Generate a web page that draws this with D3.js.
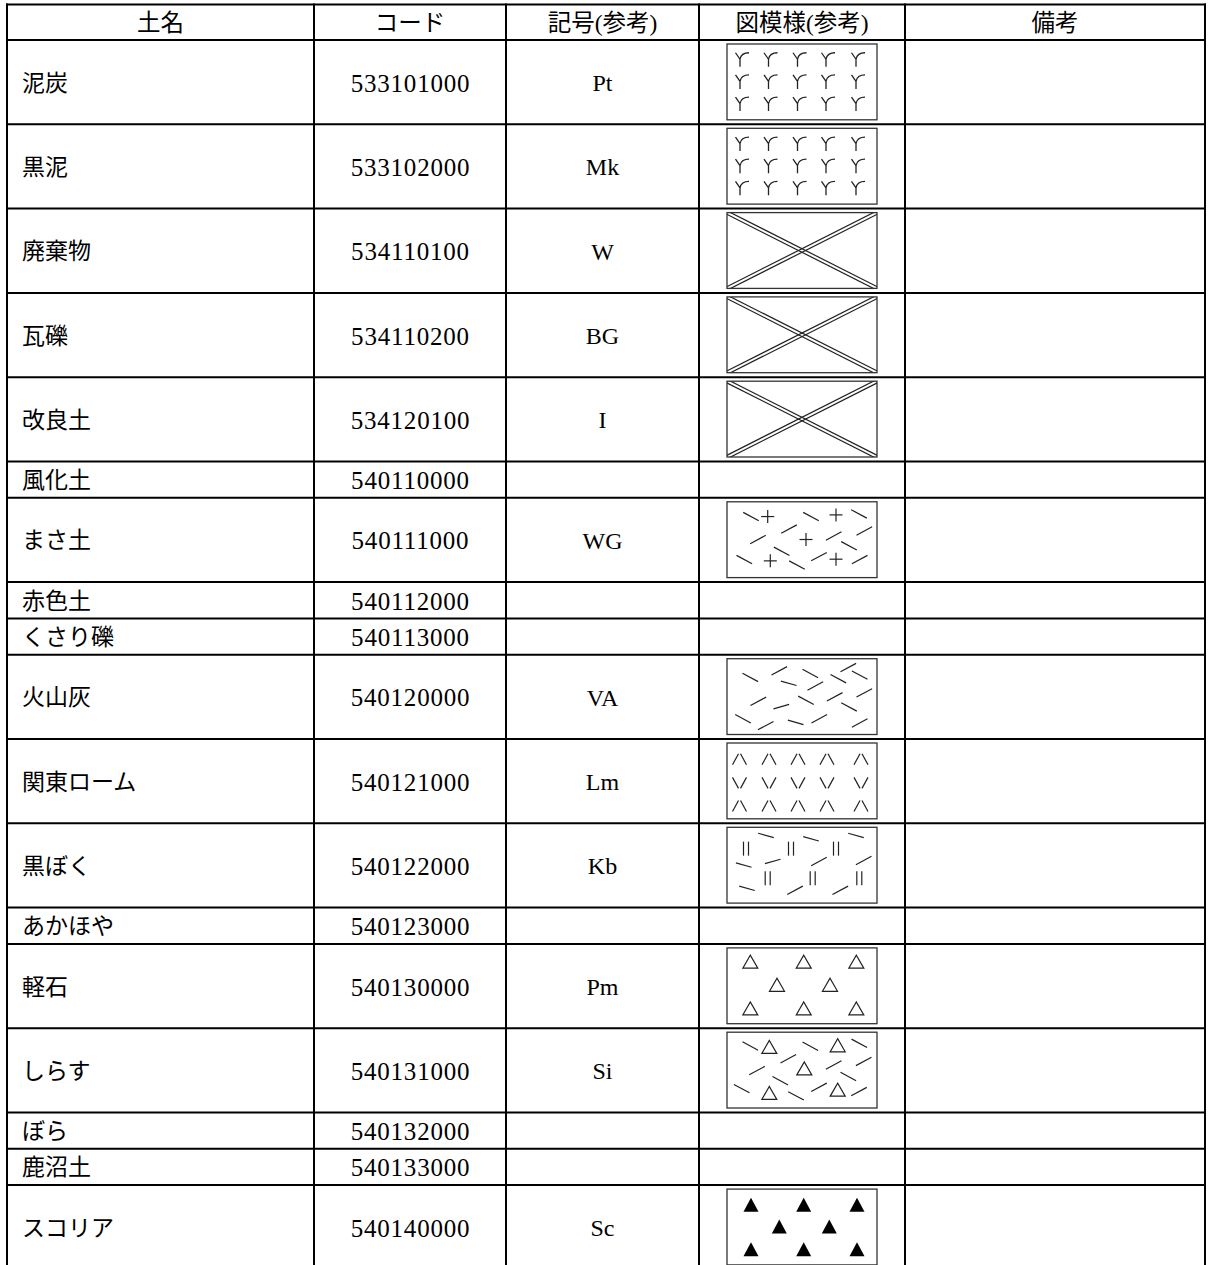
<!DOCTYPE html>
<html><head><meta charset="utf-8">
<script src="https://cdn.jsdelivr.net/npm/d3@7"></script>
<style>html,body{margin:0;padding:0;background:#fff;} svg{display:block;}</style>
</head><body><svg id="c" width="1211" height="1265"></svg>
<script>
// ---------- data ----------
const headers = ["土名", "コード", "記号(参考)", "図模様(参考)", "備考"];
const soilNames = ["泥炭", "黒泥", "廃棄物", "瓦礫", "改良土", "風化土", "まさ土", "赤色土", "くさり礫",
  "火山灰", "関東ローム", "黒ぼく", "あかほや", "軽石", "しらす", "ぼら", "鹿沼土", "スコリア"];
const codes = ["533101000", "533102000", "534110100", "534110200", "534120100", "540110000", "540111000",
  "540112000", "540113000", "540120000", "540121000", "540122000", "540123000", "540130000", "540131000",
  "540132000", "540133000", "540140000"];
const symbols = ["Pt", "Mk", "W", "BG", "I", "", "WG", "", "", "VA", "Lm", "Kb", "", "Pm", "Si", "", "", "Sc"];
const patterns = ["peat", "peat", "cross", "cross", "cross", null, "masa", null, null, "ash", "loam", "kuroboku",
  null, "pumice", "shirasu", null, null, "scoria"];
const remarks = ["", "", "", "", "", "", "", "", "", "", "", "", "", "", "", "", "", ""];

// pattern glyphs, in box units (box = 150 x 77)
const peatCols = [13, 41.5, 70.5, 99, 129];
const peatRows = [16, 38.5, 61];
const loamCols = [12.5, 42, 71, 100, 134];
const loamRows = [[16.5, "up"], [40.5, "down"], [64, "up"]];
const masaMarks = [[24, 15, "d"], [40.7, 15, "+"], [84, 15, "d"], [109, 13.3, "+"], [132, 12.3, "d"],
  [62, 27.7, "a"], [31, 38.3, "a"], [79, 38.3, "+"], [106.7, 34.7, "a"], [137.3, 29.7, "a"],
  [122, 44.7, "d"], [54.7, 50.3, "d"],
  [17.3, 58.7, "d"], [43.3, 60, "+"], [70, 64.3, "d"], [92, 55.7, "a"], [109, 58.3, "+"], [132.7, 58.7, "a"]];
const ashMarks = [[23.3, 19, "d"], [52.3, 12.3, "a"], [83.3, 15, "d"], [121.3, 9, "a"], [132.7, 16.7, "d"],
  [111.3, 20.3, "d"], [61.7, 25, "sd"], [88.3, 27.7, "a"], [31.3, 43.3, "a"], [79, 42.3, "d"],
  [107.7, 38.7, "a"], [137.3, 34.7, "a"], [54.3, 48.7, "sa"], [122, 49, "d"], [16, 61, "d"],
  [38.7, 68, "a"], [68.7, 64.7, "sd"], [92.3, 61, "a"], [132.7, 65.3, "a"]];
const kurobokuMarks = [[19, 21.7, "||"], [39, 8.3, "sd"], [64, 21.7, "||"], [84, 11.7, "sd"], [109, 21.7, "||"],
  [129, 8.3, "sd"], [16.7, 38.3, "sd"], [45.7, 34.7, "sa"], [92, 34.7, "a"], [136.7, 33.7, "a"],
  [40.7, 51.7, "||"], [85.7, 51.7, "||"], [132.3, 51.7, "||"], [20, 62, "sd"], [68, 64, "a"], [113.3, 64, "a"]];
const pumiceMarks = [[23.3, 14, "tri"], [76.7, 14, "tri"], [129.3, 14, "tri"], [50, 37.5, "tri"], [103, 37.5, "tri"],
  [23.3, 61.5, "tri"], [76.7, 61.5, "tri"], [129.3, 61.5, "tri"]];
const shirasuMarks = [[23.3, 14, "d"], [42.3, 15, "tri"], [83.3, 14.3, "d"], [110.7, 13.3, "tri"], [132.3, 11.3, "d"],
  [61.3, 27, "a"], [30, 39, "a"], [77.3, 36.7, "tri"], [106.7, 33.3, "a"], [136.7, 29.7, "a"],
  [121.3, 45, "d"], [53.3, 49.3, "d"], [14.7, 57.3, "d"], [42.3, 61.7, "tri"], [69, 64.7, "d"],
  [92, 56, "a"], [110.7, 58.3, "tri"], [132, 60.3, "a"]];
const scoriaMarks = [[24, 16, "ftri"], [76.7, 16, "ftri"], [130, 16, "ftri"], [52.3, 38, "ftri"], [102.3, 38, "ftri"],
  [24, 61, "ftri"], [76.7, 61, "ftri"], [130, 61, "ftri"]];

// ---------- layout ----------
const colEdges = [7, 314, 506, 699, 905, 1205];
const tableTop = 4.5, headerH = 35.5, tallH = 84.3, shortH = 36.3;
const FONT = "'Liberation Serif','Noto Sans CJK JP',serif";
const FS_HEAD = 23.5, FS_NAME = 23, FS_NUM = 25, FS_SYM = 24;

const svg = d3.select("#c");
const rowHeights = [headerH].concat(patterns.map(p => p ? tallH : shortH));
const rowTops = [tableTop].concat(Array.from(d3.cumsum(rowHeights), v => tableTop + v));
const colX = d3.scaleOrdinal().domain(d3.range(colEdges.length)).range(colEdges);
const rowY = d3.scaleOrdinal().domain(d3.range(rowTops.length)).range(rowTops);

// text
const g = svg.append("g").attr("font-family", FONT).attr("fill", "#000");
headers.forEach((h, c) => {
  g.append("text").attr("x", (colX(c) + colX(c + 1)) / 2).attr("y", rowY(0) + headerH / 2 + 1)
    .attr("font-size", FS_HEAD).attr("text-anchor", "middle").attr("dominant-baseline", "central").text(h);
});
const rows = soilNames.map((n, i) => ({ name: n, code: codes[i], sym: symbols[i], pat: patterns[i], rem: remarks[i], i }));
rows.forEach(r => {
  const top = rowY(r.i + 1), h = rowHeights[r.i + 1], cy = top + h / 2 + 1;
  g.append("text").attr("x", colX(0) + 15).attr("y", cy).attr("font-size", FS_NAME).attr("dominant-baseline", "central").text(r.name);
  g.append("text").attr("x", (colX(1) + colX(2)) / 2 + 0.5).attr("y", cy).attr("font-size", FS_NUM).attr("letter-spacing", 0.8)
    .attr("text-anchor", "middle").attr("dominant-baseline", "central").text(r.code);
  g.append("text").attr("x", (colX(2) + colX(3)) / 2).attr("y", cy).attr("font-size", FS_SYM).attr("text-anchor", "middle").attr("dominant-baseline", "central").text(r.sym);
  g.append("text").attr("x", (colX(4) + colX(5)) / 2).attr("y", cy).attr("font-size", FS_NAME).attr("text-anchor", "middle").attr("dominant-baseline", "central").text(r.rem);
});

// patterns
const defs = svg.append("defs");
const pg = svg.append("g");
const BW = 150, BH = 77;
rows.filter(r => r.pat).forEach(r => {
  const top = rowY(r.i + 1), h = rowHeights[r.i + 1];
  const cx = (colX(3) + colX(4)) / 2;
  const bx = cx - BW / 2, by = top + 4, bh = h - 8.5;
  const sx = d3.scaleLinear().domain([0, BW]).range([bx, bx + BW]);
  const sy = d3.scaleLinear().domain([0, BH]).range([by, by + bh]);
  const cell = pg.append("g").attr("stroke", "#222").attr("stroke-width", 1.2).attr("fill", "none");
  const clipId = "clip" + r.i;
  defs.append("clipPath").attr("id", clipId).append("rect").attr("x", bx).attr("y", by).attr("width", BW).attr("height", bh);
  const line = (x1, y1, x2, y2) => cell.append("line").attr("x1", x1).attr("y1", y1).attr("x2", x2).attr("y2", y2);
  const dash = (m) => {
    const x = sx(m[0]), y = sy(m[1]), t = m[2];
    if (t === "d") line(x - 7.8, y - 4.2, x + 7.8, y + 4.2);
    else if (t === "a") line(x - 7.8, y + 4.2, x + 7.8, y - 4.2);
    else if (t === "sd") line(x - 7.8, y - 2.2, x + 7.8, y + 2.2);
    else if (t === "sa") line(x - 7.8, y + 2.2, x + 7.8, y - 2.2);
    else if (t === "+") { line(x - 6.5, y, x + 6.5, y); line(x, y - 6.5, x, y + 6.5); }
    else if (t === "||") { line(x - 2.5, y - 7, x - 2.5, y + 7); line(x + 2.5, y - 7, x + 2.5, y + 7); }
    else if (t === "tri") cell.append("path").attr("d", `M${x - 7.5},${y + 6.5}L${x},${y - 6.5}L${x + 7.5},${y + 6.5}Z`);
    else if (t === "ftri") cell.append("path").attr("fill", "#000").attr("stroke", "none").attr("d", `M${x - 7.5},${y + 7}L${x},${y - 7}L${x + 7.5},${y + 7}Z`);
  };
  if (r.pat === "peat") {
    peatRows.forEach(ry => peatCols.forEach(cxv => {
      const x = sx(cxv), y = sy(ry);
      cell.append("path").attr("stroke-width", 1.3)
        .attr("d", `M${x},${y + 7}L${x},${y - 0.5}M${x},${y - 0.5}L${x - 4.5},${y - 7}M${x},${y - 0.5}Q${x + 1.2},${y - 7} ${x + 9},${y - 7}`);
    }));
  } else if (r.pat === "cross") {
    const xg = cell.append("g").attr("clip-path", `url(#${clipId})`);
    const diag = (x1, y1, x2, y2) => {
      const dx = x2 - x1, dy = y2 - y1, L = Math.hypot(dx, dy), nx = -dy / L * 1.6, ny = dx / L * 1.6;
      [-1, 1].forEach(s => xg.append("line").attr("x1", x1 + s * nx).attr("y1", y1 + s * ny).attr("x2", x2 + s * nx).attr("y2", y2 + s * ny));
    };
    diag(bx, by, bx + BW, by + bh);
    diag(bx, by + bh, bx + BW, by);
  } else if (r.pat === "loam") {
    loamRows.forEach(([ry, dir]) => loamCols.forEach(cxv => {
      const x = sx(cxv), y = sy(ry);
      if (dir === "up") { line(x - 7, y + 5.5, x - 1, y - 5.5); line(x + 1, y - 5.5, x + 7, y + 5.5); }
      else { line(x - 7, y - 5.5, x - 1, y + 5.5); line(x + 1, y + 5.5, x + 7, y - 5.5); }
    }));
  } else {
    const marks = { masa: masaMarks, ash: ashMarks, kuroboku: kurobokuMarks, pumice: pumiceMarks, shirasu: shirasuMarks, scoria: scoriaMarks }[r.pat];
    marks.forEach(dash);
  }
  cell.append("rect").attr("x", bx).attr("y", by).attr("width", BW).attr("height", bh).attr("stroke", "#333").attr("stroke-width", 1.3);
});

// grid lines
const lg = svg.append("g").attr("stroke", "#000").attr("stroke-width", 2);
const bottom = rowTops[rowTops.length - 1];
colEdges.forEach((x, c) => lg.append("line").attr("x1", colX(c)).attr("x2", colX(c)).attr("y1", tableTop - 1).attr("y2", bottom + 1));
rowTops.forEach((y, k) => lg.append("line").attr("x1", colX(0) - 1).attr("x2", colX(colEdges.length - 1) + 1).attr("y1", rowY(k)).attr("y2", rowY(k)));
</script></body></html>
